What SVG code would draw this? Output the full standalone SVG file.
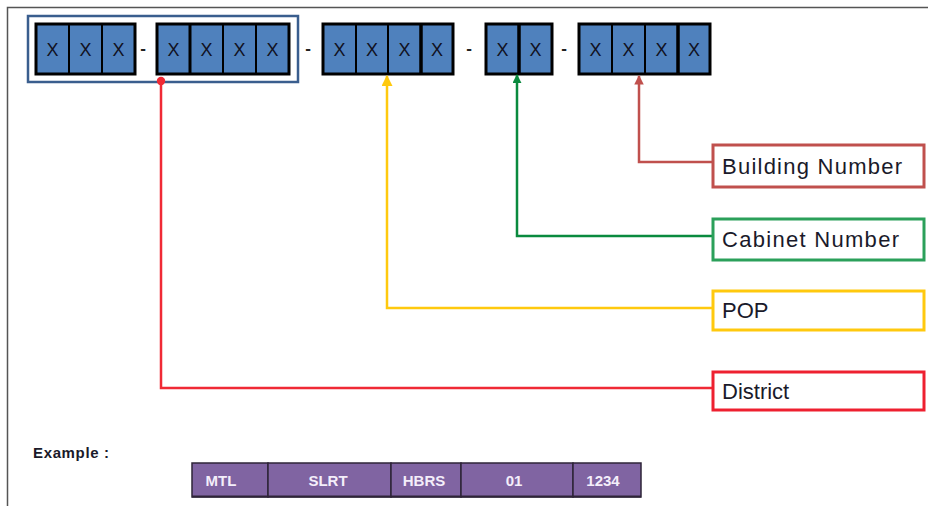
<svg xmlns="http://www.w3.org/2000/svg" width="928" height="506" viewBox="0 0 928 506">
<defs>
<style>
.cell{fill:#4F81BD;stroke:#000;stroke-width:2}
.grp{fill:none;stroke:#000;stroke-width:3}
.x{font-family:"Liberation Sans",Arial,sans-serif;font-size:18px;fill:#111122;text-anchor:middle}
.dash{font-family:"Liberation Sans",Arial,sans-serif;font-size:17px;font-weight:bold;fill:#222;text-anchor:middle}
.lbl{font-family:"Liberation Sans",Arial,sans-serif;font-size:22px;fill:#1a1a2a}
.lbox{fill:#fff;stroke-width:3}
.conn{fill:none;stroke-width:2.5}
.tcell{fill:#8064A2;stroke:#2e2438;stroke-width:1.5}
.tt{font-family:"Liberation Sans",Arial,sans-serif;font-size:15px;font-weight:bold;fill:#f4eefa;text-anchor:middle}
</style>
<marker id="arrY" viewBox="0 0 10 10" refX="9" refY="5" markerWidth="4.4" markerHeight="4.4" orient="auto"><path d="M0,0 L10,5 L0,10 z" fill="#FFC90E"/></marker>
<marker id="arrG" viewBox="0 0 10 10" refX="9" refY="5" markerWidth="3.6" markerHeight="3.6" orient="auto"><path d="M0,0 L10,5 L0,10 z" fill="#0A8A3E"/></marker>
<marker id="arrB" viewBox="0 0 10 10" refX="9" refY="5" markerWidth="3.8" markerHeight="3.8" orient="auto"><path d="M0,0 L10,5 L0,10 z" fill="#C0504D"/></marker>
</defs>
<rect x="0" y="0" width="928" height="506" fill="#fff"/>
<path d="M7.5,506 L7.5,7.5 L928,7.5" fill="none" stroke="#555" stroke-width="1.5"/>

<g id="frame">
<rect x="28" y="16" width="270" height="66" fill="#fff" stroke="#3A5E8E" stroke-width="2.5"/>
</g>

<g id="group1">
<rect class="cell" x="36" y="24" width="33" height="50"/>
<rect class="cell" x="69" y="24" width="33" height="50"/>
<rect class="cell" x="102" y="24" width="33" height="50"/>
<rect class="grp" x="36" y="24" width="99" height="50"/>
<text class="x" x="52.5" y="55.5">X</text><text class="x" x="85.5" y="55.5">X</text><text class="x" x="118.5" y="55.5">X</text>
</g>
<text class="dash" x="143" y="54">-</text>
<g id="group2">
<rect class="cell" x="157" y="24" width="33" height="50"/>
<rect class="cell" x="190" y="24" width="33" height="50"/>
<rect class="cell" x="223" y="24" width="33" height="50"/>
<rect class="cell" x="256" y="24" width="33" height="50"/>
<rect class="grp" x="157" y="24" width="132" height="50"/>
<line x1="190" y1="24" x2="190" y2="74" stroke="#000" stroke-width="3"/>
<text class="x" x="173.5" y="55.5">X</text><text class="x" x="206.5" y="55.5">X</text><text class="x" x="239.5" y="55.5">X</text><text class="x" x="272.5" y="55.5">X</text>
</g>
<text class="dash" x="308" y="54">-</text>
<g id="group3">
<rect class="cell" x="323" y="24" width="33" height="50"/>
<rect class="cell" x="356" y="24" width="32" height="50"/>
<rect class="cell" x="388" y="24" width="33" height="50"/>
<rect class="cell" x="421" y="24" width="32" height="50"/>
<rect class="grp" x="323" y="24" width="130" height="50"/>
<line x1="421" y1="24" x2="421" y2="74" stroke="#000" stroke-width="3.5"/>
<text class="x" x="339.5" y="55.5">X</text><text class="x" x="372" y="55.5">X</text><text class="x" x="404.5" y="55.5">X</text><text class="x" x="437" y="55.5">X</text>
</g>
<text class="dash" x="469" y="54">-</text>
<g id="group4">
<rect class="cell" x="486" y="24" width="33" height="50"/>
<rect class="cell" x="519" y="24" width="33" height="50"/>
<rect class="grp" x="486" y="24" width="66" height="50"/>
<line x1="519" y1="24" x2="519" y2="74" stroke="#000" stroke-width="3.5"/>
<text class="x" x="502.5" y="55.5">X</text><text class="x" x="535.5" y="55.5">X</text>
</g>
<text class="dash" x="564" y="54">-</text>
<g id="group5">
<rect class="cell" x="579" y="24" width="33" height="50"/>
<rect class="cell" x="612" y="24" width="33" height="50"/>
<rect class="cell" x="645" y="24" width="33" height="50"/>
<rect class="cell" x="678" y="24" width="32" height="50"/>
<rect class="grp" x="579" y="24" width="131" height="50"/>
<line x1="678" y1="24" x2="678" y2="74" stroke="#000" stroke-width="3.5"/>
<text class="x" x="595.5" y="55.5">X</text><text class="x" x="628.5" y="55.5">X</text><text class="x" x="661.5" y="55.5">X</text><text class="x" x="694" y="55.5">X</text>
</g>

<g id="connectors">
<path class="conn" d="M161,81 L161,388 L712,388" stroke="#F02A35"/>
<circle cx="161" cy="81" r="4.2" fill="#F02A35"/>
<path class="conn" d="M712,308 L387,308 L387,76" stroke="#FFC90E" marker-end="url(#arrY)"/>
<path class="conn" d="M712,236 L517,236 L517,75" stroke="#0A8A3E" stroke-width="3.5" marker-end="url(#arrG)"/>
<path class="conn" d="M712,162 L639,162 L639,76" stroke="#C0504D" stroke-width="3" marker-end="url(#arrB)"/>
</g>

<g id="building">
<rect class="lbox" x="713" y="145" width="211" height="42" stroke="#C0504D"/>
<text class="lbl" x="722" y="174" textLength="180">Building Number</text>
</g>
<g id="cabinet">
<rect class="lbox" x="713" y="219" width="211" height="41" stroke="#2BA05A"/>
<text class="lbl" x="722" y="247" textLength="177">Cabinet Number</text>
</g>
<g id="pop">
<rect class="lbox" x="713" y="291" width="211" height="39" stroke="#FFC90E"/>
<text class="lbl" x="722" y="318">POP</text>
</g>
<g id="district">
<rect class="lbox" x="713" y="372" width="211" height="38" stroke="#EE2030"/>
<text class="lbl" x="722" y="399">District</text>
</g>

<g id="example">
<text x="33" y="458" font-family="Liberation Sans, Arial, sans-serif" font-size="15" font-weight="bold" fill="#1a1a2a" textLength="76">Example :</text>
<rect class="tcell" x="192" y="463" width="76" height="34"/>
<rect class="tcell" x="268" y="463" width="123" height="34"/>
<rect class="tcell" x="391" y="463" width="70" height="34"/>
<rect class="tcell" x="461" y="463" width="112" height="34"/>
<rect class="tcell" x="573" y="463" width="68" height="34"/>
<line x1="192" y1="496.5" x2="641" y2="496.5" stroke="#2e2438" stroke-width="2"/>
<text class="tt" x="221" y="486">MTL</text>
<text class="tt" x="328" y="486">SLRT</text>
<text class="tt" x="424" y="486">HBRS</text>
<text class="tt" x="514" y="486">01</text>
<text class="tt" x="603" y="486">1234</text>
</g>
</svg>
